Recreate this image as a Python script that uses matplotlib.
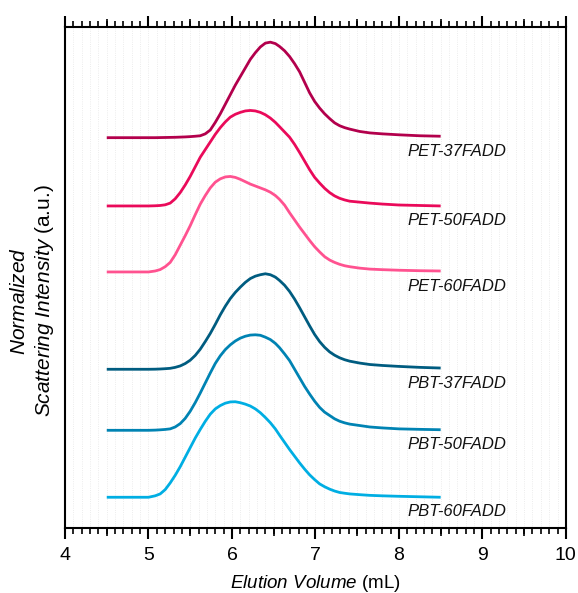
import numpy as np
import matplotlib
matplotlib.use('Agg')
import matplotlib.pyplot as plt
from matplotlib.ticker import MultipleLocator

plt.rcParams['font.family'] = ['Liberation Sans', 'DejaVu Sans']
plt.rcParams['mathtext.fontset'] = 'custom'
plt.rcParams['mathtext.it'] = 'Liberation Sans:italic'
plt.rcParams['mathtext.rm'] = 'Liberation Sans'

_FILENAME_ = "out.png"
_LINE_W_ = 2.0
_SPINE_W_ = 1.5

# Elution volume (mL), shared by all traces
volume = [4.5, 4.75, 5.0, 5.08, 5.14, 5.2, 5.26, 5.32, 5.38, 5.44, 5.5, 5.56,
          5.62, 5.68, 5.74, 5.8, 5.86, 5.92, 5.98, 6.04, 6.1, 6.16, 6.22,
          6.28, 6.34, 6.4, 6.46, 6.52, 6.57, 6.63, 6.69, 6.75, 6.81, 6.87,
          6.93, 6.99, 7.05, 7.11, 7.17, 7.23, 7.29, 7.35, 7.41, 7.53, 7.65,
          7.8, 8.0, 8.25, 8.5]

# Normalized scattering intensity
pet_37 = [0, 0, 0, 0, 0.001, 0.002, 0.003, 0.004, 0.006, 0.008, 0.011, 0.015,
          0.02, 0.04, 0.08, 0.16, 0.25, 0.35, 0.45, 0.55, 0.64, 0.73, 0.82,
          0.89, 0.95, 0.99, 1.0, 0.985, 0.955, 0.91, 0.85, 0.775, 0.69, 0.58,
          0.47, 0.38, 0.31, 0.25, 0.20, 0.155, 0.125, 0.105, 0.09, 0.065, 0.05,
          0.04, 0.03, 0.02, 0.015]
pet_50 = [0, 0, 0, 0.002, 0.005, 0.012, 0.03, 0.075, 0.14, 0.22, 0.31, 0.41,
          0.51, 0.59, 0.67, 0.75, 0.82, 0.88, 0.93, 0.96, 0.98, 0.995, 1.0,
          0.995, 0.98, 0.955, 0.92, 0.875, 0.83, 0.775, 0.72, 0.645, 0.56, 0.47,
          0.38, 0.30, 0.24, 0.185, 0.14, 0.105, 0.08, 0.063, 0.05, 0.04, 0.03,
          0.02, 0.01, 0.005, 0.0]
pet_60 = [0, 0, 0, 0.01, 0.025, 0.055, 0.10, 0.18, 0.28, 0.38, 0.485, 0.60,
          0.71, 0.80, 0.88, 0.94, 0.975, 0.995, 1.0, 0.99, 0.97, 0.945, 0.92,
          0.90, 0.88, 0.86, 0.835, 0.80, 0.76, 0.70, 0.62, 0.545, 0.47, 0.40,
          0.33, 0.265, 0.21, 0.16, 0.125, 0.10, 0.08, 0.065, 0.055, 0.04, 0.03,
          0.024, 0.018, 0.013, 0.01]
pbt_37 = [0, 0, 0, 0.001, 0.003, 0.006, 0.01, 0.02, 0.035, 0.06, 0.095, 0.145,
          0.21, 0.29, 0.375, 0.47, 0.57, 0.66, 0.74, 0.805, 0.86, 0.91, 0.95,
          0.975, 0.99, 1.0, 0.99, 0.965, 0.93, 0.88, 0.815, 0.735, 0.645, 0.55,
          0.455, 0.365, 0.29, 0.23, 0.182, 0.147, 0.12, 0.10, 0.085, 0.065, 0.05,
          0.04, 0.03, 0.02, 0.013]
pbt_50 = [0, 0, 0, 0.002, 0.005, 0.009, 0.015, 0.035, 0.07, 0.125, 0.2, 0.29,
          0.39, 0.495, 0.6, 0.70, 0.78, 0.845, 0.895, 0.935, 0.965, 0.985,
          0.997, 1.0, 0.995, 0.975, 0.95, 0.91, 0.865, 0.80, 0.73, 0.64, 0.55,
          0.46, 0.38, 0.305, 0.24, 0.19, 0.155, 0.12, 0.095, 0.078, 0.065, 0.05,
          0.035, 0.025, 0.015, 0.01, 0.006]
pbt_60 = [0, 0, 0, 0.015, 0.035, 0.08, 0.15, 0.23, 0.32, 0.42, 0.52, 0.62,
          0.71, 0.795, 0.87, 0.925, 0.96, 0.985, 0.998, 1.0, 0.99, 0.975, 0.955,
          0.925, 0.885, 0.835, 0.78, 0.715, 0.65, 0.575, 0.5, 0.43, 0.36, 0.295,
          0.235, 0.185, 0.14, 0.11, 0.085, 0.065, 0.05, 0.042, 0.035, 0.027,
          0.02, 0.015, 0.01, 0.005, 0.0]

names = ['PET-37FADD', 'PET-50FADD', 'PET-60FADD',
         'PBT-37FADD', 'PBT-50FADD', 'PBT-60FADD']
traces = [pet_37, pet_50, pet_60, pbt_37, pbt_50, pbt_60]
# vertical stacking offset of each trace
offsets = [4.087, 3.372, 2.681, 1.662, 1.023, 0.322]
colors = ['#B3004C', '#EA0A5A', '#FF5290', '#005C80', '#0083B3', '#00AEE3']


def make_graph(filename=_FILENAME_):
    '''
       Stacked SEC traces.
    '''
    fig = plt.figure(figsize=(5.78, 5.93), dpi=100)
    ax = fig.add_axes([0.1125, 0.1096, 0.8665, 0.8449])

    x = np.array(volume)
    for name, y, off, c in zip(names, traces, offsets, colors):
        ax.plot(x, np.array(y) + off, color=c, lw=_LINE_W_,
                solid_capstyle='butt', solid_joinstyle='round')
        ax.text(8.1, off - 0.15, name, fontsize=12, fontstyle='italic',
                ha='left', va='center', color='#111111')

    ax.set_xlim(4, 10)
    ax.set_ylim(0, 5.246)

    # light dotted grid at every minor step
    ax.xaxis.set_major_locator(MultipleLocator(1))
    ax.xaxis.set_minor_locator(MultipleLocator(0.1))
    ax.grid(which='both', axis='x', color='#e6e6e6', lw=0.6, ls=':')
    ax.set_axisbelow(True)

    ax.set_yticks([])
    ax.tick_params(axis='x', which='major', direction='out', length=8,
                   width=_SPINE_W_, top=True, labelsize=14, pad=6)
    ax.tick_params(axis='x', which='minor', direction='out', length=4,
                   width=1.2, top=True)
    # medium ticks at the half steps
    for loc in ['bottom', 'top']:
        sec = ax.secondary_xaxis(loc)
        sec.set_xticks(np.arange(4.5, 10, 1.0))
        sec.tick_params(direction='out', length=6, width=1.2,
                        labelbottom=False, labeltop=False)
        for s in sec.spines.values():
            s.set_visible(False)

    for s in ax.spines.values():
        s.set_linewidth(_SPINE_W_)

    ax.set_xlabel(r'$\mathit{Elution\ Volume}$ (mL)', fontsize=13.5,
                  labelpad=6)
    ax.set_ylabel('$\\mathit{Normalized}$\n$\\mathit{Scattering\\ Intensity}$ (a.u.)',
                  fontsize=15, linespacing=1.25)
    ax.yaxis.set_label_coords(-0.018, 0.453)

    plt.savefig(filename, dpi=100)
    plt.close()
    return filename


if __name__ == '__main__':
    make_graph()
